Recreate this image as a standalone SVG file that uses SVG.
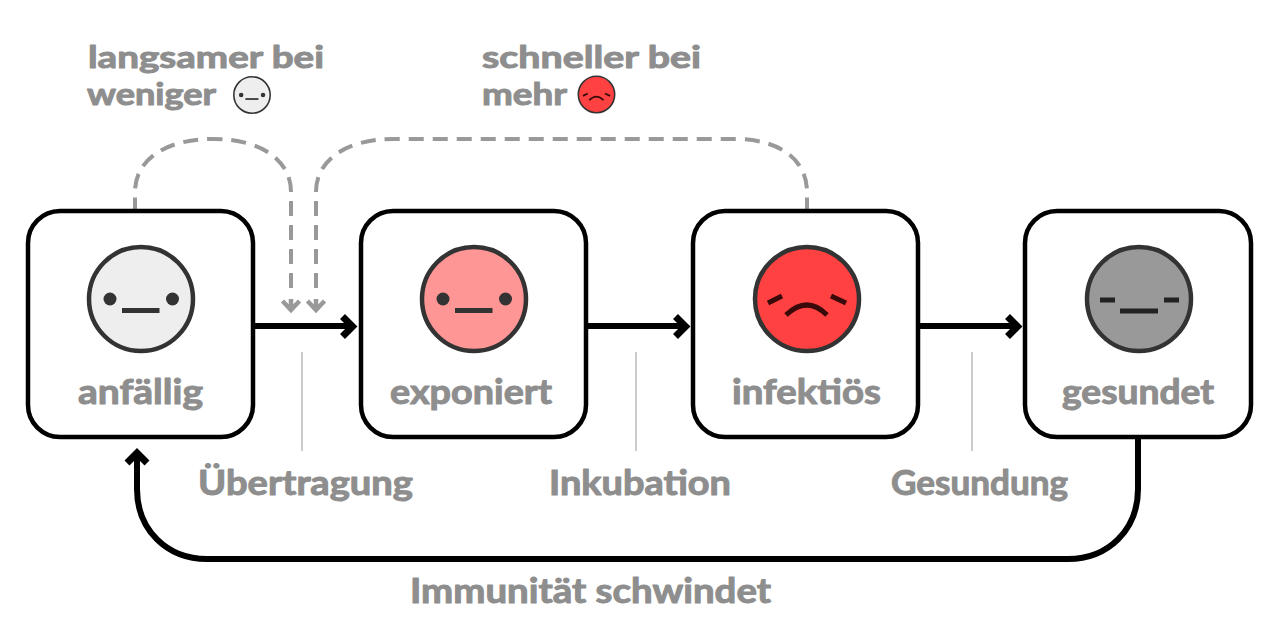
<svg xmlns="http://www.w3.org/2000/svg" xmlns:xlink="http://www.w3.org/1999/xlink" width="1280" height="640" viewBox="0 0 1280 640">
  <style>
    .box { fill: #fff; stroke: #000; stroke-width: 4.5; }
    .head { stroke: #333; stroke-width: 4.5; }
    .feat { fill: none; stroke: #333; stroke-width: 5; }
    .t { font-family: "Lato", "Open Sans", "DejaVu Sans", sans-serif; font-weight: 700; font-size: 34px; fill: #8e8e8e; stroke: #8e8e8e; stroke-width: 1; stroke-linejoin: round; }
    .t2 { font-size: 30.800px; }
    .main { fill: none; stroke: #000; stroke-width: 6; }
    .mainhead { fill: none; stroke: #000; stroke-width: 7; }
    .dash { fill: none; stroke: #999; stroke-width: 4; stroke-dasharray: 15 9; }
    .dashhead { fill: none; stroke: #999; stroke-width: 4.500; }
    .tick { stroke: #ccc; stroke-width: 2; }
  </style>
  <defs>
    <g id="face-s">
      <circle r="52" fill="#eeeeee" class="head"/>
      <circle cx="-31" r="6.5" fill="#333"/>
      <circle cx="31.5" r="6.5" fill="#333"/>
      <path class="feat" d="M-19 11.5H18.5"/>
    </g>
    <g id="face-i">
      <circle r="52" fill="#ff4141" class="head"/>
      <path class="feat" style="stroke:#3a0a0a" d="M-39 4L-25 -3M24 -3L39 4M-21 16Q0 -4 20 16"/>
    </g>
  </defs>

  <g id="connectors">
    <path class="main" d="M255 326H352"/>
    <path class="mainhead" d="M342.500 316.500L352.500 326.500L342.500 336.500"/>
    <path class="main" d="M588 326H685"/>
    <path class="mainhead" d="M675.500 316.500L685.500 326.500L675.500 336.500"/>
    <path class="main" d="M920 326H1017"/>
    <path class="mainhead" d="M1007.500 316.500L1017.500 326.500L1007.500 336.500"/>
    <path class="main" d="M1138 438V489C1138 530 1108 559 1068 559H207C167 559 137 530 137 489V454"/>
    <path class="mainhead" d="M127 463L137 453L147 463"/>
    <path class="dash" d="M291 288V192C291 160 261 139 213 139C165 139 135 160 135 192V210"/>
    <path class="dashhead" d="M282.500 301L291 310L299.500 301M291 299V310"/>
    <path class="dash" d="M316 288V192C316 160 346 139 394 139H735C780 139 807 160 807 192V210"/>
    <path class="dashhead" d="M307.500 301L316 310L324.500 301M316 299V310"/>
    <path class="tick" d="M302 352V451M636 352V451M972 352V451"/>
  </g>

  <g id="node-anfaellig">
    <rect class="box" x="28" y="211" width="225" height="226" rx="32"/>
    <use xlink:href="#face-s" href="#face-s" x="141" y="299"/>
    <text class="t" x="78" y="404" textLength="125" lengthAdjust="spacingAndGlyphs">anfällig</text>
  </g>
  <g id="node-exponiert">
    <rect class="box" x="361" y="211" width="225" height="226" rx="32"/>
    <circle cx="474" cy="299" r="52" fill="#ff9696" class="head"/>
    <circle cx="443" cy="299" r="6.500" fill="#333"/>
    <circle cx="505.500" cy="299" r="6.500" fill="#333"/>
    <path class="feat" d="M455 310.500H492.500"/>
    <text class="t" x="390" y="404" textLength="162" lengthAdjust="spacingAndGlyphs">exponiert</text>
  </g>
  <g id="node-infektioes">
    <rect class="box" x="693" y="211" width="225" height="226" rx="32"/>
    <use xlink:href="#face-i" href="#face-i" x="807" y="299"/>
    <text class="t" x="732" y="404" textLength="149" lengthAdjust="spacingAndGlyphs">infektiös</text>
  </g>
  <g id="node-gesundet">
    <rect class="box" x="1025" y="211" width="226" height="226" rx="32"/>
    <circle cx="1139" cy="299" r="52" fill="#999" class="head"/>
    <path class="feat" style="stroke:#222" d="M1100 300H1115M1164 300H1179M1120 311H1158"/>
    <text class="t" x="1062" y="404" textLength="152" lengthAdjust="spacingAndGlyphs">gesundet</text>
  </g>

  <g id="label-langsamer">
    <text class="t t2" x="88" y="68" textLength="236" lengthAdjust="spacingAndGlyphs">langsamer bei</text>
    <text class="t t2" x="87" y="105" textLength="129" lengthAdjust="spacingAndGlyphs">weniger</text>
    <use xlink:href="#face-s" href="#face-s" transform="translate(252 95) scale(.35)"/>
  </g>
  <g id="label-schneller">
    <text class="t t2" x="482" y="68" textLength="219" lengthAdjust="spacingAndGlyphs">schneller bei</text>
    <text class="t t2" x="482" y="105" textLength="85" lengthAdjust="spacingAndGlyphs">mehr</text>
    <use xlink:href="#face-i" href="#face-i" transform="translate(596.500 94.500) scale(.35)"/>
  </g>
  <g id="labels">
    <text class="t" x="198" y="495" textLength="215" lengthAdjust="spacingAndGlyphs">Übertragung</text>
    <text class="t" x="549" y="495" textLength="182" lengthAdjust="spacingAndGlyphs">Inkubation</text>
    <text class="t" x="891" y="495" textLength="177" lengthAdjust="spacingAndGlyphs">Gesundung</text>
    <text class="t" x="410" y="603" textLength="361" lengthAdjust="spacingAndGlyphs">Immunität schwindet</text>
  </g>
</svg>
